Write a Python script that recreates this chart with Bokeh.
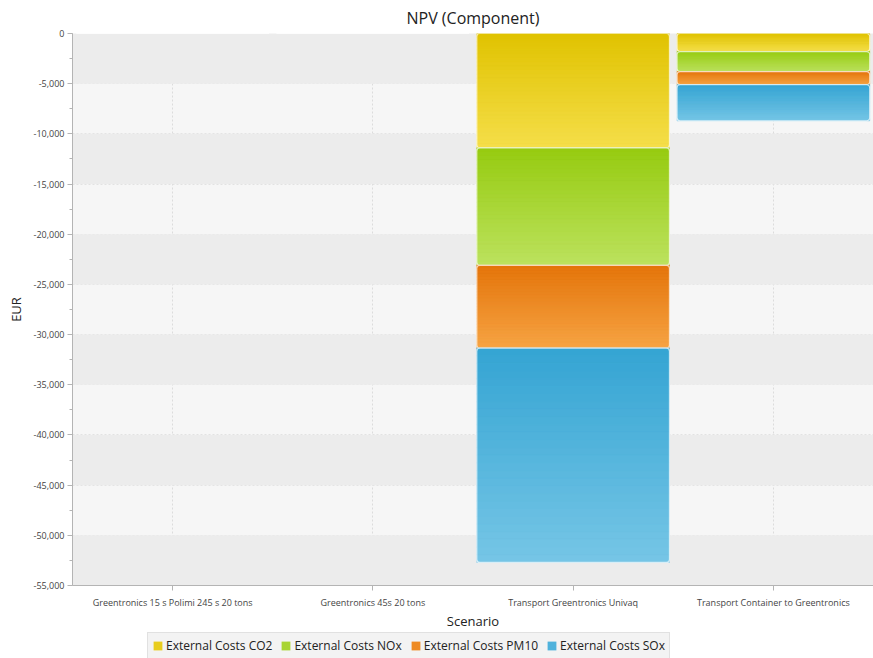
import numpy as np
from bokeh.plotting import figure
from bokeh.layouts import column
from bokeh.models import (ColumnDataSource, FactorRange, Range1d, BoxAnnotation,
                          SingleIntervalTicker, NumeralTickFormatter, Legend, LegendItem)
from bokeh.embed import file_html
from bokeh.resources import INLINE

# Scenario categories and external cost components (EUR, negative = cost)
scenarios = ["Greentronics 15 s Polimi 245 s 20 tons",
             "Greentronics 45s 20 tons",
             "Transport Greentronics Univaq",
             "Transport Container to Greentronics"]
co2 = [0, 0, -11400, -1800]
nox = [0, 0, -11700, -2000]
pm10 = [0, 0, -8250, -1300]
sox = [0, 0, -21350, -3600]

series_names = ["External Costs CO2", "External Costs NOx",
                "External Costs PM10", "External Costs SOx"]
y_ticks_interval = 5000
y_min, y_max = -55000, 0

# gradient colours (top, bottom) and swatch colour per series
palette = [
    ("#e0c200", "#f5df4a", "#e8cd1e"),
    ("#96cb10", "#bce25e", "#a8d432"),
    ("#e4740a", "#f6a444", "#ee8a22"),
    ("#34a4d3", "#76c6e6", "#4fb2dc"),
]

FONT = "Open Sans"
BAR_W = 0.962

p = figure(x_range=FactorRange(*scenarios, range_padding=0),
           y_range=Range1d(y_min, y_max),
           frame_width=801, frame_height=552,
           output_backend="svg", toolbar_location=None,
           title="NPV (Component)",
           min_border_left=72, min_border_right=0, min_border_top=32,
           min_border_bottom=0)

p.title.align = "center"
p.title.text_font = FONT
p.title.text_font_size = "16px"
p.title.text_font_style = "normal"
p.title.text_color = "#222222"
p.title.standoff = 9

p.background_fill_color = "#f6f6f6"
p.border_fill_color = "white"
p.outline_line_color = None

# alternating horizontal bands
for i, top in enumerate(range(y_max, y_min, -y_ticks_interval)):
    if i % 2 == 0:
        p.add_layout(BoxAnnotation(top=top, bottom=top - y_ticks_interval,
                                   fill_color="#ececec", fill_alpha=1.0,
                                   line_color=None, level="underlay"))

p.xgrid.grid_line_color = "#dcdcdc"
p.xgrid.grid_line_dash = "2 2"
p.ygrid.grid_line_color = "#e2e2e2"
p.ygrid.grid_line_dash = "2 2"

def hex2rgb(h):
    h = h.lstrip("#")
    return np.array([int(h[i:i + 2], 16) for i in (0, 2, 4)], dtype=float)

def rgb2hex(c):
    return "#%02x%02x%02x" % tuple(int(round(v)) for v in c)

values = [co2, nox, pm10, sox]
stack_top = np.zeros(len(scenarios))
base_sources = []
N = 28
for name, vals, (c_top, c_bot, c_sw) in zip(series_names, values, palette):
    vals = np.array(vals, dtype=float)
    tops = stack_top.copy()
    bottoms = stack_top + vals
    stack_top = bottoms

    base_src = ColumnDataSource(dict(x=scenarios, top=tops, bottom=bottoms))
    base_sources.append(base_src)
    p.vbar(x="x", top="top", bottom="bottom", width=BAR_W, source=base_src,
           fill_color=c_sw, line_color=None, border_radius=3)

    # vertical gradient: thin slices from the segment's top to its bottom
    xs, st, sb, sc = [], [], [], []
    ct, cb = hex2rgb(c_top), hex2rgb(c_bot)
    for cat, t, b in zip(scenarios, tops, bottoms):
        if t == b:
            continue
        for k in range(N):
            f = (k + 0.5) / N
            xs.append(cat)
            st.append(t + (b - t) * k / N)
            sb.append(t + (b - t) * (k + 1) / N)
            sc.append(rgb2hex(ct + (cb - ct) * f))
    grad_src = ColumnDataSource(dict(x=xs, top=st, bottom=sb, color=sc))
    p.vbar(x="x", top="top", bottom="bottom", width=BAR_W, source=grad_src,
           fill_color="color", line_color="color", line_width=0.6)

    p.vbar(x="x", top="top", bottom="bottom", width=BAR_W, source=base_src,
           fill_color=None, line_color="#ffffff", line_alpha=0.7, line_width=1.2,
           border_radius=3)

# axes
p.yaxis.ticker = SingleIntervalTicker(interval=y_ticks_interval, num_minor_ticks=2)
p.yaxis.formatter = NumeralTickFormatter(format="0,0")
p.yaxis.axis_label = "EUR"
for ax in (p.xaxis[0], p.yaxis[0]):
    ax.axis_line_color = "#b4b4b4"
    ax.major_tick_line_color = "#b4b4b4"
    ax.minor_tick_line_color = "#b4b4b4"
    ax.major_tick_in = 0
    ax.major_tick_out = 5
    ax.minor_tick_in = 0
    ax.minor_tick_out = 3
    ax.major_label_text_font = FONT
    ax.major_label_text_font_size = "9px"
    ax.major_label_text_color = "#444444"
    ax.axis_label_text_font = FONT
    ax.axis_label_text_font_size = "13px"
    ax.axis_label_text_font_style = "normal"
    ax.axis_label_text_color = "#222222"
p.xaxis.axis_label = "Scenario"
p.xaxis.major_label_standoff = 5
p.xaxis.axis_label_standoff = 0
p.yaxis.major_label_standoff = 3
p.yaxis.axis_label_standoff = 6

# legend strip under the chart; its bars lie outside the strip's y range,
# so only the legend entries are visible
leg = figure(width=873, height=28, output_backend="svg", toolbar_location=None,
             x_range=FactorRange(*scenarios, range_padding=0), y_range=Range1d(1, 2),
             x_axis_type=None, y_axis_type=None,
             min_border_left=0, min_border_right=0, min_border_top=0,
             min_border_bottom=0)
leg.outline_line_color = None
leg.background_fill_color = "white"
leg.border_fill_color = "white"
leg.xgrid.visible = False
leg.ygrid.visible = False

legend_items = []
for name, src, (c_top, c_bot, c_sw) in zip(series_names, base_sources, palette):
    r = leg.vbar(x="x", top="top", bottom="bottom", width=BAR_W, source=src,
                 fill_color=c_sw, line_color=None)
    legend_items.append(LegendItem(label=name, renderers=[r]))

legend = Legend(items=legend_items, orientation="horizontal", location=(75, 1),
                label_text_font=FONT, label_text_font_size="12px",
                label_text_color="#222222", glyph_width=11, glyph_height=11,
                label_standoff=3, spacing=8, padding=4, margin=0,
                border_line_color="#cfcfcf", background_fill_color="#f3f3f3",
                background_fill_alpha=1.0, label_height=16)
leg.add_layout(legend, "center")

layout = column(p, leg, spacing=0)
open("out.html", "w").write(file_html(layout, INLINE))
